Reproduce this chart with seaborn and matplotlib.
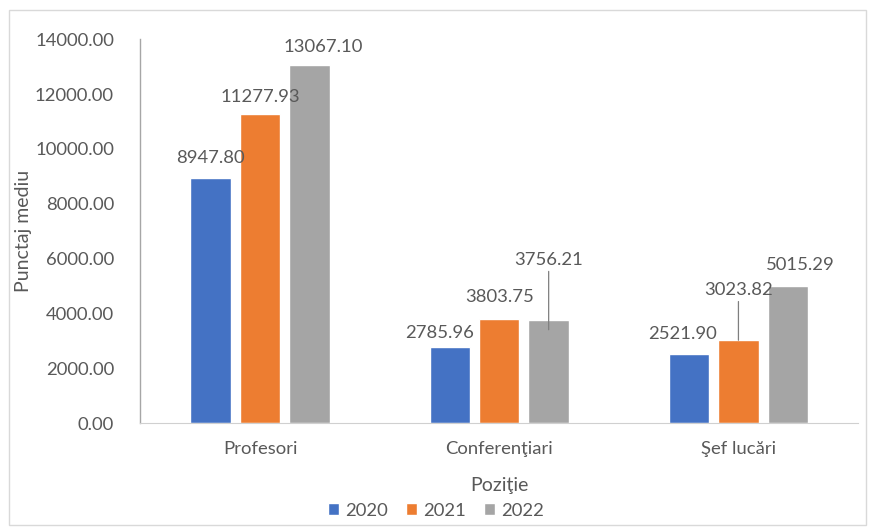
import pandas as pd
import matplotlib.pyplot as plt
import seaborn as sns
from matplotlib.patches import Rectangle

# data
positions = ['Profesori', 'Conferenţiari', 'Şef lucări']
years = ['2020', '2021', '2022']
val_2020 = [8947.80, 2785.96, 2521.90]
val_2021 = [11277.93, 3803.75, 3023.82]
val_2022 = [13067.10, 3756.21, 5015.29]

colors = ['#4472C4', '#ED7D31', '#A5A5A5']
txt_col = '#595959'

rows = []
for yr, vals in zip(years, [val_2020, val_2021, val_2022]):
    for p, v in zip(positions, vals):
        rows.append({'Poziţie': p, 'An': yr, 'Punctaj mediu': v})
df = pd.DataFrame(rows)

sns.set_style('white')
plt.rcParams['font.family'] = ['Lato', 'DejaVu Sans']

fig = plt.figure(figsize=(8.72, 5.29), dpi=100)
ax = fig.add_axes([0.161, 0.2, 0.823, 0.726])

sns.barplot(data=df, x='Poziţie', y='Punctaj mediu', hue='An',
            palette=colors, width=0.62, gap=0.18, ax=ax, saturation=1)

fs = 13.3
ax.set_ylim(0, 14000)
ax.set_yticks(range(0, 14001, 2000))
ax.set_yticklabels([f'{t:.2f}' for t in range(0, 14001, 2000)])
ax.tick_params(axis='both', colors=txt_col, labelsize=fs, length=0)
ax.tick_params(axis='y', pad=19)
ax.tick_params(axis='x', pad=13)
ax.set_ylabel('Punctaj mediu', color=txt_col, fontsize=14, labelpad=2)
ax.set_xlabel('Poziţie', color=txt_col, fontsize=14, labelpad=14)

for s in ['top', 'right']:
    ax.spines[s].set_visible(False)
ax.spines['left'].set_color('#A6A6A6')
ax.spines['bottom'].set_color('#D0D0D0')
ax.spines['left'].set_linewidth(1)

# label offsets in pixels (dx, dy), some were moved by hand in the original
offsets = [
    [(0, 24), (-10, 18), (-6, 24)],
    [(0, 21), (0, 26), (0, 42)],
    [(14, 22), (0, 52), (12, 25)],
]
leaders = [[False, False, False], [False, False, True], [False, True, False]]
sink = [[0, 0, 0], [0, 0, 0], [0, 350, 0]]

for i, cont in enumerate(ax.containers):
    for j, bar in enumerate(cont):
        x = bar.get_x() + bar.get_width() / 2
        h = bar.get_height()
        dx, dy = offsets[i][j]
        if leaders[i][j]:
            props = dict(arrowstyle='-', color='#7F7F7F', lw=0.9,
                         shrinkA=0, shrinkB=0)
            ax.annotate(f'{h:.2f}', xy=(x, h - sink[i][j]), xytext=(dx, dy + sink[i][j] * 0.0275),
                        textcoords='offset pixels', ha='center', va='bottom',
                        fontsize=fs, color=txt_col, arrowprops=props,
                        annotation_clip=False)
        else:
            ax.annotate(f'{h:.2f}', xy=(x, h), xytext=(dx, dy - 12),
                        textcoords='offset pixels', ha='center', va='bottom',
                        fontsize=fs, color=txt_col, annotation_clip=False)

ax.legend(loc='lower center', bbox_to_anchor=(0.5, -0.012), bbox_transform=fig.transFigure,
          ncol=3, frameon=False, fontsize=fs, handlelength=0.6, handleheight=0.6,
          handletextpad=0.3, columnspacing=1.0, labelcolor=txt_col)

fig.patches.append(Rectangle((0.01, 0.008), 0.983, 0.973, transform=fig.transFigure,
                             fill=False, edgecolor='#D9D9D9', lw=1))

fig.savefig('out.png', dpi=100)
